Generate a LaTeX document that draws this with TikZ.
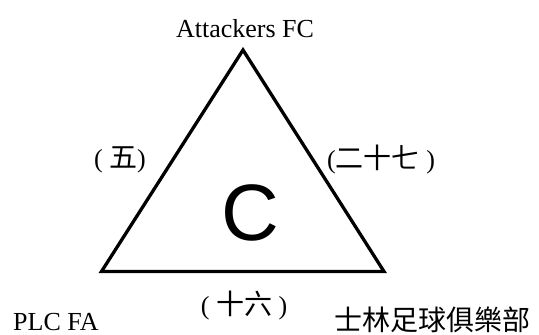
\documentclass[tikz,border=0pt]{standalone}
\usepackage{fontspec}
\setmainfont{Liberation Serif}
\setsansfont{Liberation Sans}
\newfontfamily\cjk{Noto Sans CJK TC}
\usetikzlibrary{positioning}
\newcommand{\han}[1]{{\cjk\fontsize{28}{32}\selectfont #1}}
\tikzset{
  club/.style={inner sep=0pt,font=\fontsize{26}{30}\selectfont},
  score/.style={inner sep=0pt,font=\fontsize{26}{30}\selectfont},
  side/.style={line width=3.3pt,line join=miter}
}

\begin{document}
\begin{tikzpicture}[x=1pt,y=-1pt]
        \useasboundingbox (0,0) rectangle (539,335);
        \coordinate (top) at (243,50);
        \coordinate (left) at (101.5,271.5);
        \coordinate (right) at (384,271.5);
        \draw[side] (top) -- (left) -- (right) -- cycle;
        \node[inner sep=0pt,font=\sffamily\fontsize{80}{90}\selectfont] (grp) at (250,213) {C};
        \node[club,anchor=base] (atk) at (245,37) {Attackers FC};
        \node[club,anchor=base west] (plc) at (13,330) {PLC FA};
        \node[club,anchor=base,font=\cjk\fontsize{28}{32}\selectfont] (slk) at (432,330) {士林足球俱樂部};
        \node[score] (sl) at (120,160) {( \han{五})};
        \node[score] (sr) at (381,160) {(\han{二十七} )};
        \node[score] (sb) at (244,306) {( \han{十六} )};
      \end{tikzpicture}
\end{document}
